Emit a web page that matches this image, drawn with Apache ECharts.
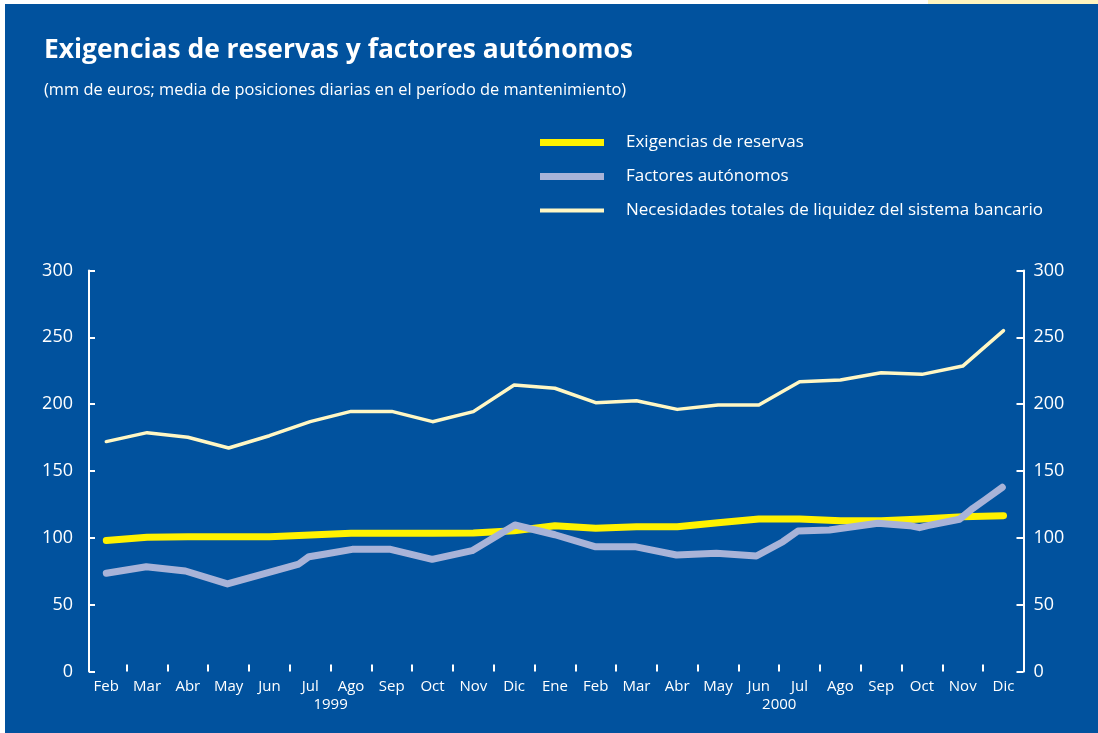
<!DOCTYPE html>
<html>
<head>
<meta charset="utf-8">
<script src="https://cdn.jsdelivr.net/npm/echarts@6/dist/echarts.min.js"></script>
<style>
html,body{margin:0;padding:0;background:#ffffff;}
#chart{width:1098px;height:733px;}
</style>
</head>
<body>
<div id="chart"></div>
<script>
// Month labels (Feb 1999 .. Dic 2000), one per month position 0..22
const months = ['Feb','Mar','Abr','May','Jun','Jul','Ago','Sep','Oct','Nov','Dic',
                'Ene','Feb','Mar','Abr','May','Jun','Jul','Ago','Sep','Oct','Nov','Dic'];
const yearLabels = ['1999','2000'];
const yearPositions = [5.5, 16.5];

// Exigencias de reservas (monthly)
const exigencias = [98, 100.5, 100.8, 100.8, 100.8, 102.2, 103.4, 103.4, 103.4, 103.6, 105.3,
                    109, 107.1, 108.3, 108.3, 111.3, 114.1, 114.1, 112.8, 112.8, 114.1, 115.8, 116.6];

// Necesidades totales de liquidez (monthly)
const necesidades = [172, 178.7, 175.2, 167.2, 176.4, 186.9, 194.6, 194.6, 186.9, 194.4, 214.3,
                     211.9, 201.1, 202.6, 196.1, 199.4, 199.4, 216.8, 218.1, 223.5, 222.3, 228.5, 255];

// Factores autónomos (month position, value)
const factoresX = [0, 0.98, 1.94, 2.97, 4.72, 4.97, 5.34, 6.03, 6.97, 7.99, 8.97, 10.02, 11.0,
                   11.98, 12.96, 13.98, 14.96, 15.94, 16.59, 16.96, 17.73, 18.92, 19.7, 19.94,
                   20.14, 20.92, 21.25, 21.54, 21.97];
const factoresY = [73.5, 78.4, 75.2, 65.5, 80.4, 85.9, 87.7, 91.4, 91.4, 83.9, 90.4, 109.6, 102.3,
                   93.4, 93.4, 87.2, 88.4, 86.4, 97.1, 105.1, 105.9, 110.9, 109.1, 107.6,
                   109.1, 113.9, 122.1, 128.3, 137.8];

const yTicks = [0, 50, 100, 150, 200, 250, 300];

const seriesNames = ['Exigencias de reservas', 'Factores autónomos',
                     'Necesidades totales de liquidez del sistema bancario'];

const FONT = 'Open Sans';
const BLUE = '#01529E';
const C_YELLOW = '#FFF200';
const C_GREY = '#A8B3D8';
const C_CREAM = '#FFF7C4';

const monthPos = months.map((m, i) => i);
const tickPos = months.slice(1).map((m, i) => i + 0.5);

const xMin = -0.424, xMax = 22.49;

const chart = echarts.init(document.getElementById('chart'), null, {renderer: 'canvas'});

function legendCfg(name, top, h) {
  return {
    data: [name],
    left: 535, top: top,
    itemWidth: 64, itemHeight: h,
    icon: 'rect',
    selectedMode: false,
    textStyle: {color: '#ffffff', fontFamily: FONT, fontSize: 17, padding: [0, 0, 0, 17]}
  };
}

const option = {
  backgroundColor: '#ffffff',
  animation: false,
  graphic: [
    {type: 'rect', shape: {x: 5, y: 4, width: 1093, height: 729}, style: {fill: BLUE}, z: -10},
    {type: 'rect', shape: {x: 928, y: 0, width: 170, height: 4}, style: {fill: '#FFF5BF'}, z: -10}
  ],
  title: [
    {text: 'Exigencias de reservas y factores autónomos', left: 39, top: 32,
     textStyle: {color: '#ffffff', fontFamily: FONT, fontSize: 26.4, fontWeight: 'bold'}},
    {text: '(mm de euros; media de posiciones diarias en el período de mantenimiento)', left: 39, top: 77,
     textStyle: {color: '#ffffff', fontFamily: FONT, fontSize: 16.4, fontWeight: 'normal'}}
  ],
  legend: [
    legendCfg(seriesNames[0], 129, 7),
    legendCfg(seriesNames[1], 163, 7),
    legendCfg(seriesNames[2], 197, 4)
  ],
  grid: {left: 89, right: 74.5, top: 270.5, bottom: 61.5, containLabel: false},
  xAxis: [
    {
      type: 'value', min: xMin, max: xMax, position: 'bottom',
      axisLine: {show: false},
      splitLine: {show: false},
      axisTick: {show: true, inside: true, length: 7, customValues: tickPos,
                 lineStyle: {color: '#ffffff', width: 2}},
      axisLabel: {show: true, customValues: monthPos, margin: 8,
                  color: '#ffffff', fontFamily: FONT, fontSize: 15,
                  formatter: v => months[Math.round(v)]}
    },
    {
      type: 'value', min: xMin, max: xMax, position: 'bottom', offset: 0,
      axisLine: {show: false}, splitLine: {show: false}, axisTick: {show: false},
      axisLabel: {show: true, customValues: yearPositions, margin: 26,
                  color: '#ffffff', fontFamily: FONT, fontSize: 15,
                  formatter: v => yearLabels[yearPositions.indexOf(v)]}
    }
  ],
  yAxis: [
    {
      type: 'value', min: 0, max: 300, interval: 50, position: 'left',
      axisLine: {show: true, onZero: false, lineStyle: {color: '#ffffff', width: 2}},
      axisTick: {show: true, inside: true, length: 6, lineStyle: {color: '#ffffff', width: 2}},
      splitLine: {show: false},
      axisLabel: {color: '#ffffff', fontFamily: FONT, fontSize: 18, margin: 16}
    },
    {
      type: 'value', min: 0, max: 300, interval: 50, position: 'right',
      axisLine: {show: true, onZero: false, lineStyle: {color: '#ffffff', width: 2}},
      axisTick: {show: true, inside: true, length: 7, lineStyle: {color: '#ffffff', width: 2}},
      splitLine: {show: false},
      axisLabel: {color: '#ffffff', fontFamily: FONT, fontSize: 18, margin: 10}
    }
  ],
  series: [
    {
      name: seriesNames[0], type: 'line', showSymbol: false, symbol: 'none',
      xAxisIndex: 0, yAxisIndex: 0,
      itemStyle: {color: C_YELLOW},
      lineStyle: {color: C_YELLOW, width: 7, cap: 'round', join: 'round'},
      data: exigencias.map((v, i) => [monthPos[i], v]), z: 2
    },
    {
      name: seriesNames[1], type: 'line', showSymbol: false, symbol: 'none',
      xAxisIndex: 0, yAxisIndex: 0,
      itemStyle: {color: C_GREY},
      lineStyle: {color: C_GREY, width: 7, cap: 'round', join: 'round'},
      data: factoresX.map((x, i) => [x, factoresY[i]]), z: 3
    },
    {
      name: seriesNames[2], type: 'line', showSymbol: false, symbol: 'none',
      xAxisIndex: 0, yAxisIndex: 0,
      itemStyle: {color: C_CREAM},
      lineStyle: {color: C_CREAM, width: 3.5, cap: 'round', join: 'round'},
      data: necesidades.map((v, i) => [monthPos[i], v]), z: 4
    }
  ]
};

chart.setOption(option);
</script>
</body>
</html>
